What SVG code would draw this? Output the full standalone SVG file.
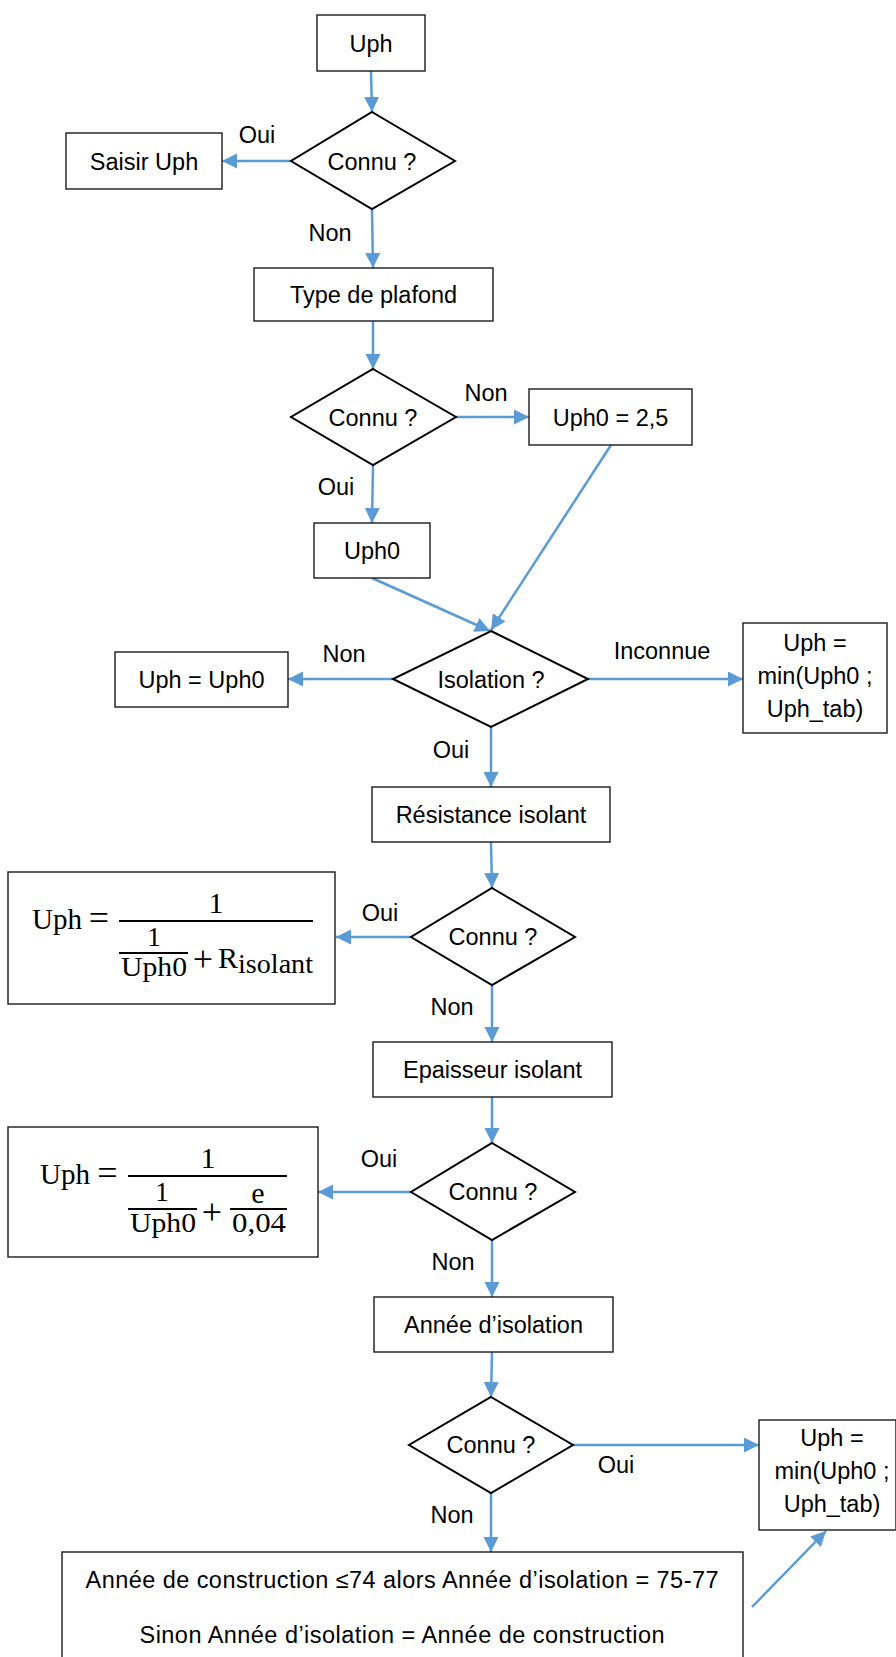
<svg xmlns="http://www.w3.org/2000/svg" width="896" height="1657" viewBox="0 0 896 1657">
<style>
.box{fill:#fff;stroke:#1a1a1a;stroke-width:1.4}
.dia{fill:#fff;stroke:#000;stroke-width:2}
.t{font-family:"Liberation Sans",Arial,sans-serif;font-size:23.5px;fill:#000;text-anchor:middle}
.lbl{font-family:"Liberation Sans",Arial,sans-serif;font-size:23.5px;fill:#000;text-anchor:middle}
.m{font-family:"Liberation Serif","DejaVu Serif",serif;font-size:30px;fill:#000}
.s{font-size:27px}
.op{font-size:36px}
.mc{text-anchor:middle}
.bar{fill:#000}
.c{fill:none;stroke:#5B9BD5;stroke-width:2.5;marker-end:url(#ah)}
</style>
<defs>
<marker id="ah" markerUnits="userSpaceOnUse" markerWidth="17" markerHeight="16" refX="15" refY="7.5" orient="auto">
<path d="M0,0 L15,7.5 L0,15 z" fill="#5B9BD5"/>
</marker>
</defs>
<rect width="896" height="1657" fill="#fff"/>

<g id="connectors">
<path class="c" d="M371,71 L372,112"/>
<path class="c" d="M291,161 L222,161"/>
<path class="c" d="M372,209 L373,268"/>
<path class="c" d="M373,321 L373,369"/>
<path class="c" d="M456,417 L529,417"/>
<path class="c" d="M373,465 L372,523"/>
<path class="c" d="M372,578 L490,631"/>
<path class="c" d="M611,445 L491,630"/>
<path class="c" d="M393,679 L288,679"/>
<path class="c" d="M588,679 L743,679"/>
<path class="c" d="M491,727 L491,787"/>
<path class="c" d="M491,842 L492,888"/>
<path class="c" d="M411,937 L336,937"/>
<path class="c" d="M492,985 L492,1042"/>
<path class="c" d="M492,1097 L492,1143"/>
<path class="c" d="M411,1192 L318,1192"/>
<path class="c" d="M492,1240 L492,1297"/>
<path class="c" d="M492,1352 L491,1397"/>
<path class="c" d="M573,1445 L759,1445"/>
<path class="c" d="M491,1493 L491,1552"/>
<path class="c" d="M752,1607 L826,1531"/>
<text class="lbl" x="257" y="143">Oui</text>
<text class="lbl" x="330" y="241">Non</text>
<text class="lbl" x="486" y="401">Non</text>
<text class="lbl" x="336" y="495">Oui</text>
<text class="lbl" x="344" y="662">Non</text>
<text class="lbl" x="662" y="659">Inconnue</text>
<text class="lbl" x="451" y="758">Oui</text>
<text class="lbl" x="380" y="921">Oui</text>
<text class="lbl" x="452" y="1015">Non</text>
<text class="lbl" x="379" y="1167">Oui</text>
<text class="lbl" x="453" y="1270">Non</text>
<text class="lbl" x="616" y="1473">Oui</text>
<text class="lbl" x="452" y="1523">Non</text>
</g>

<g id="n-uph"><rect class="box" x="317" y="15" width="108" height="56"/><text class="t" x="371" y="51.5">Uph</text></g>
<g id="d-connu1"><polygon class="dia" points="372,112 455,161 372,209 291,161"/><text class="t" x="372" y="169.5">Connu ?</text></g>
<g id="n-saisir"><rect class="box" x="66" y="133" width="156" height="56"/><text class="t" x="144" y="169.5">Saisir Uph</text></g>
<g id="n-type"><rect class="box" x="254" y="268" width="239" height="53"/><text class="t" x="373.5" y="303">Type de plafond</text></g>
<g id="d-connu2"><polygon class="dia" points="373,369 456,417 373,465 291,417"/><text class="t" x="373" y="425.5">Connu ?</text></g>
<g id="n-uph0-25"><rect class="box" x="529" y="389" width="163" height="56"/><text class="t" x="610.5" y="425.5">Uph0 = 2,5</text></g>
<g id="n-uph0"><rect class="box" x="314" y="523" width="116" height="55"/><text class="t" x="372" y="559">Uph0</text></g>
<g id="d-isolation"><polygon class="dia" points="491,631 588,679 491,727 393,679"/><text class="t" x="491" y="687.5">Isolation ?</text></g>
<g id="n-uph-uph0"><rect class="box" x="115" y="652" width="173" height="55"/><text class="t" x="201.5" y="688">Uph = Uph0</text></g>
<g id="n-min1"><rect class="box" x="743" y="623" width="144" height="110"/><text class="t" x="815" y="651">Uph =</text><text class="t" x="815" y="684">min(Uph0 ;</text><text class="t" x="815" y="717">Uph_tab)</text></g>
<g id="n-resistance"><rect class="box" x="372" y="787" width="238" height="55"/><text class="t" x="491" y="823">Résistance isolant</text></g>
<g id="d-connu3"><polygon class="dia" points="492,888 575,937 492,985 411,937"/><text class="t" x="493" y="945">Connu ?</text></g>
<g id="n-formula1">
<rect class="box" x="8" y="872" width="327" height="132"/>
<text class="m" x="32" y="929" textLength="50" lengthAdjust="spacingAndGlyphs">Uph</text>
<text class="m op mc" x="99" y="929.5">=</text>
<rect class="bar" x="119" y="920" width="194" height="2"/>
<text class="m mc" x="216" y="913">1</text>
<text class="m s mc" x="154" y="946">1</text>
<rect class="bar" x="119" y="952" width="69" height="2"/>
<text class="m s" x="121" y="976" textLength="66" lengthAdjust="spacingAndGlyphs">Uph0</text>
<text class="m op mc" x="203" y="971">+</text>
<text class="m" x="218" y="968">R</text>
<text class="m s" x="238" y="973" textLength="75" lengthAdjust="spacingAndGlyphs">isolant</text>
</g>
<g id="n-epaisseur"><rect class="box" x="373" y="1042" width="239" height="55"/><text class="t" x="492.5" y="1078">Epaisseur isolant</text></g>
<g id="d-connu4"><polygon class="dia" points="492,1143 575,1192 492,1240 411,1192"/><text class="t" x="493" y="1200">Connu ?</text></g>
<g id="n-formula2">
<rect class="box" x="8" y="1127" width="310" height="130"/>
<text class="m" x="40" y="1184" textLength="50" lengthAdjust="spacingAndGlyphs">Uph</text>
<text class="m op mc" x="107.5" y="1184.5">=</text>
<rect class="bar" x="128" y="1175" width="159" height="2"/>
<text class="m mc" x="208" y="1168">1</text>
<text class="m s mc" x="162" y="1201">1</text>
<rect class="bar" x="128" y="1208" width="69" height="2"/>
<text class="m s" x="130" y="1232" textLength="66" lengthAdjust="spacingAndGlyphs">Uph0</text>
<text class="m op mc" x="212" y="1224">+</text>
<text class="m mc" x="258" y="1203">e</text>
<rect class="bar" x="230" y="1208" width="57" height="2"/>
<text class="m s" x="232" y="1232" textLength="54" lengthAdjust="spacingAndGlyphs">0,04</text>
</g>
<g id="n-annee"><rect class="box" x="374" y="1297" width="239" height="55"/><text class="t" x="493.5" y="1333">Année d’isolation</text></g>
<g id="d-connu5"><polygon class="dia" points="491,1397 573,1445 491,1493 409,1445"/><text class="t" x="491" y="1453">Connu ?</text></g>
<g id="n-min2"><rect class="box" x="759" y="1420" width="137" height="110"/><text class="t" x="832" y="1446">Uph =</text><text class="t" x="832" y="1479">min(Uph0 ;</text><text class="t" x="832" y="1512">Uph_tab)</text></g>
<g id="n-construction"><rect class="box" x="62" y="1552" width="681" height="115"/><text class="t" x="402" y="1588" textLength="633">Année de construction ≤74 alors Année d’isolation = 75-77</text><text class="t" x="402" y="1643" textLength="525">Sinon Année d’isolation = Année de construction</text></g>
</svg>
